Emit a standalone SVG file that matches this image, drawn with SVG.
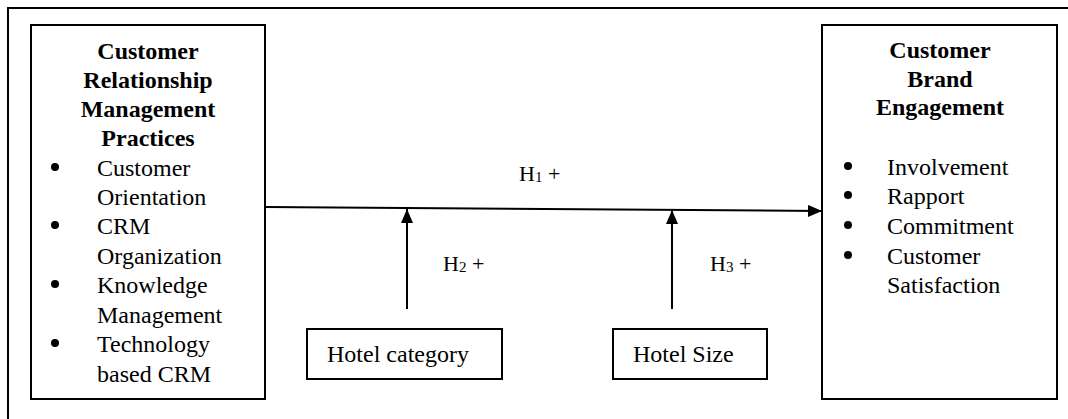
<svg xmlns="http://www.w3.org/2000/svg" width="1068" height="419" viewBox="0 0 1068 419">
<style>
.box{fill:#fff;stroke:#000;stroke-width:2}
.t{font-family:"Liberation Serif","Times New Roman",serif;font-size:24px;fill:#000}
.b{font-weight:bold}
.h{font-family:"Liberation Serif","Times New Roman",serif;font-size:22px;fill:#000}
.sub{font-size:15px}
.ln{stroke:#000;stroke-width:2;fill:none}
</style>
<defs>
<marker id="ah" viewBox="0 0 14 12" refX="14" refY="6" markerWidth="14" markerHeight="12" markerUnits="userSpaceOnUse" orient="auto">
<path d="M0,0 L14,6 L0,12 Z" fill="#000"/>
</marker>
</defs>
<rect x="8" y="8" width="1100" height="500" fill="none" stroke="#000" stroke-width="2"/>
<g id="crm">
<rect class="box" x="31" y="25" width="234" height="374"/>
<text class="t b" text-anchor="middle" x="148" y="59">Customer</text>
<text class="t b" text-anchor="middle" x="148" y="88">Relationship</text>
<text class="t b" text-anchor="middle" x="148" y="117">Management</text>
<text class="t b" text-anchor="middle" x="148" y="146">Practices</text>
<circle cx="55" cy="167" r="4"/>
<text class="t" x="97" y="176">Customer</text>
<text class="t" x="97" y="205">Orientation</text>
<circle cx="55" cy="225" r="4"/>
<text class="t" x="97" y="234">CRM</text>
<text class="t" x="97" y="264">Organization</text>
<circle cx="55" cy="284" r="4"/>
<text class="t" x="97" y="293">Knowledge</text>
<text class="t" x="97" y="323">Management</text>
<circle cx="55" cy="343" r="4"/>
<text class="t" x="97" y="352">Technology</text>
<text class="t" x="97" y="382">based CRM</text>
</g>
<g id="cbe">
<rect class="box" x="822" y="25" width="235" height="374"/>
<text class="t b" text-anchor="middle" x="940" y="58">Customer</text>
<text class="t b" text-anchor="middle" x="940" y="87">Brand</text>
<text class="t b" text-anchor="middle" x="940" y="115">Engagement</text>
<circle cx="848" cy="166" r="4"/>
<text class="t" x="887" y="175">Involvement</text>
<circle cx="848" cy="195" r="4"/>
<text class="t" x="887" y="204">Rapport</text>
<circle cx="848" cy="225" r="4"/>
<text class="t" x="887" y="234">Commitment</text>
<circle cx="848" cy="255" r="4"/>
<text class="t" x="887" y="264">Customer</text>
<text class="t" x="887" y="293">Satisfaction</text>
</g>
<g id="hotel-category">
<rect class="box" x="307" y="329" width="195" height="50"/>
<text class="t" x="327" y="362">Hotel category</text>
</g>
<g id="hotel-size">
<rect class="box" x="613" y="329" width="154" height="50"/>
<text class="t" x="633" y="362">Hotel Size</text>
</g>
<g id="connectors">
<line class="ln" x1="265" y1="207" x2="822" y2="211" marker-end="url(#ah)"/>
<line class="ln" x1="407" y1="309" x2="407" y2="209" marker-end="url(#ah)"/>
<line class="ln" x1="672" y1="309" x2="672" y2="210" marker-end="url(#ah)"/>
<text class="h" x="519" y="181">H<tspan class="sub" dy="1">1</tspan><tspan dy="-1"> +</tspan></text>
<text class="h" x="443" y="271">H<tspan class="sub" dy="1">2</tspan><tspan dy="-1"> +</tspan></text>
<text class="h" x="710" y="271">H<tspan class="sub" dy="1">3</tspan><tspan dy="-1"> +</tspan></text>
</g>
</svg>
